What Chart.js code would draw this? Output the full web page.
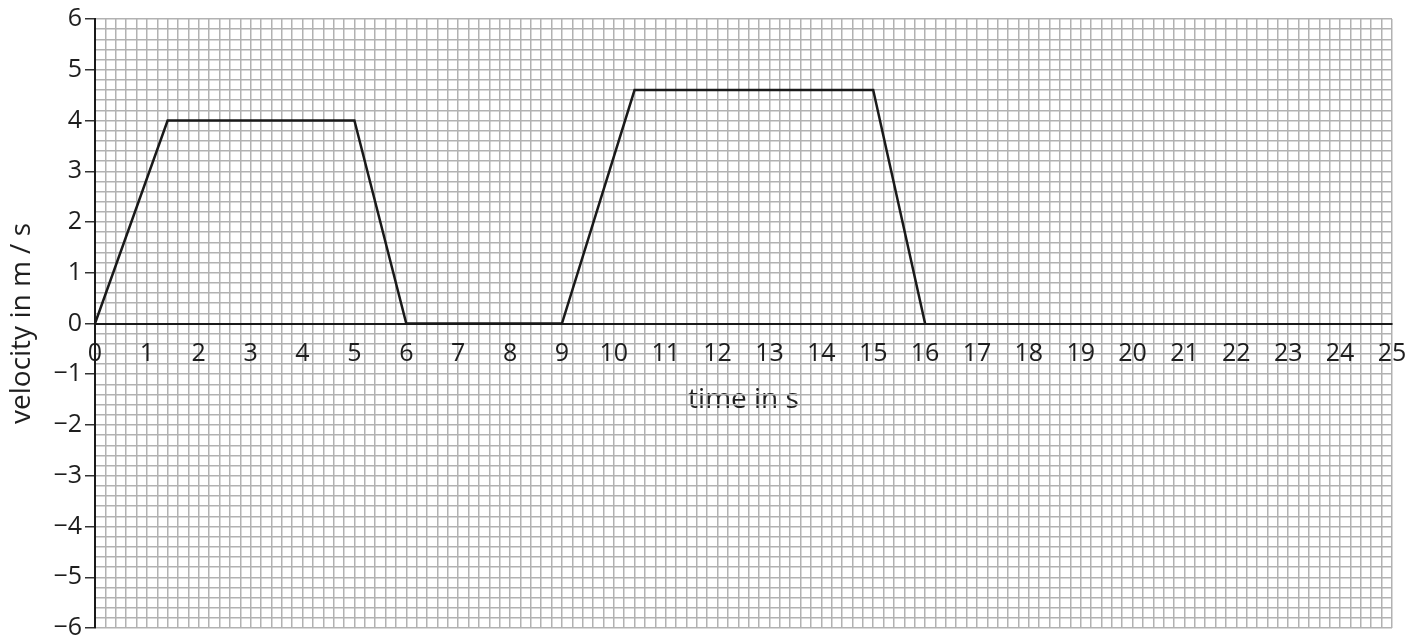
<!DOCTYPE html>
<html><head><meta charset="utf-8">
<script src="https://cdn.jsdelivr.net/npm/chart.js@4"></script>
<style>html,body{margin:0;padding:0;background:#fff}#wrap{width:1426px;height:639px}</style>
</head><body><div id="wrap"><canvas id="c" width="1426" height="639"></canvas></div>
<script>
// ---- data ----
const timeValues = [0, 1.4, 5, 6, 9, 10.4, 15, 16];
const velocityValues = [0, 4, 4, 0, 0, 4.6, 4.6, 0];
const xTickValues = [0,1,2,3,4,5,6,7,8,9,10,11,12,13,14,15,16,17,18,19,20,21,22,23,24,25];
const xTickLabels = ['0','1','2','3','4','5','6','7','8','9','10','11','12','13','14','15','16','17','18','19','20','21','22','23','24','25'];
const yTickValues = [6,5,4,3,2,1,0,-1,-2,-3,-4,-5,-6];
const yTickLabels = ['6','5','4','3','2','1','0','\u22121','\u22122','\u22123','\u22124','\u22125','\u22126'];
const xTitle = 'time in s';
const yTitle = 'velocity in m / s';

const xMin = 0, xMax = 25, yMin = -6, yMax = 6, minorStep = 0.2;
function minorTicks(min, max) {
  const out = [];
  const n = Math.round((max - min) / minorStep);
  for (let i = 0; i <= n; i++) out.push({ value: +(min + i * minorStep).toFixed(4) });
  return out;
}
function labelFor(values, labels, v) {
  const i = values.findIndex(t => Math.abs(t - v) < 1e-6);
  return i >= 0 ? labels[i] : null;
}
const FONT = "'Open Sans', sans-serif";
const TXT = '#1e1e1e';
const GRID = '#b2b2b2';

new Chart(document.getElementById('c'), {
  type: 'scatter',
  data: {
    datasets: [{
      data: timeValues.map((t, i) => ({ x: t, y: velocityValues[i] })),
      showLine: true, borderColor: '#1a1a1a', borderWidth: 2.5,
      pointRadius: 0, fill: false, tension: 0
    }]
  },
  options: {
    responsive: false, animation: false, devicePixelRatio: 1,
    layout: { padding: { left: 0, right: 34, top: 19, bottom: 11 } },
    plugins: { legend: { display: false }, tooltip: { enabled: false } },
    scales: {
      x: {
        type: 'linear', min: xMin, max: xMax, position: { y: 0 },
        afterBuildTicks: s => { s.ticks = minorTicks(xMin, xMax); },
        grid: { color: GRID, lineWidth: 1.5, drawTicks: false },
        border: { display: true, color: '#1a1a1a', width: 2 },
        ticks: {
          autoSkip: false, maxRotation: 0, minRotation: 0, padding: 15, color: TXT,
          font: { family: FONT, size: 25 },
          callback: v => labelFor(xTickValues, xTickLabels, v) || ''
        },
        title: { display: true, text: xTitle, color: TXT, font: { family: FONT, size: 28 }, padding: { top: 0, bottom: 0 } }
      },
      y: {
        type: 'linear', min: yMin, max: yMax, position: 'left',
        afterBuildTicks: s => { s.ticks = minorTicks(yMin, yMax); },
        afterFit: s => { s.width = 95; s.paddingTop = 0; s.paddingBottom = 0; },
        grid: {
          color: GRID, lineWidth: 1.5, drawTicks: true, tickLength: 10, tickWidth: 1.5,
          tickColor: ctx => (labelFor(yTickValues, yTickLabels, ctx.tick.value) !== null ? '#333' : 'rgba(0,0,0,0)')
        },
        border: { display: true, color: '#1a1a1a', width: 2 },
        ticks: {
          autoSkip: false, padding: 3, color: TXT,
          font: { family: FONT, size: 25 },
          callback: v => labelFor(yTickValues, yTickLabels, v) || ''
        },
        title: { display: true, text: yTitle, color: TXT, font: { family: FONT, size: 28 }, padding: { top: 5, bottom: 0 } }
      }
    }
  }
});
</script>
</body></html>
